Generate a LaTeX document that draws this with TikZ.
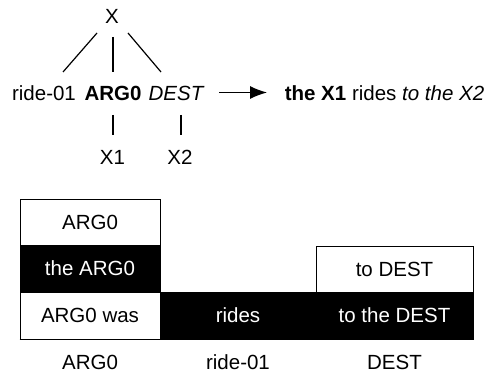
\documentclass[tikz,border=0pt]{standalone}
\usepackage{fontspec}
\setmainfont{Liberation Sans}
\usetikzlibrary{arrows.meta}
\begin{document}
\begin{tikzpicture}[x=1pt,y=-1pt,
  font=\fontsize{20.5}{24}\selectfont,
  lbl/.style={inner sep=0pt},
  cell/.style={draw=black, line width=0.9pt, inner sep=0pt, minimum height=47pt},
  wcell/.style={cell, fill=white, text=black},
  bcell/.style={cell, fill=black, text=white},
  treeline/.style={line width=1.2pt},
  bigarrow/.style={line width=1.2pt, -{Latex[length=17pt,width=13pt]}}]
\useasboundingbox (0,0) rectangle (490,377);
% tree
\node[lbl] (X) at (112,16) {X};
\node[lbl] (ride) at (44,93) {ride-01};
\node[lbl] (arg) at (113,93) {\bfseries ARG0};
\node[lbl] (dest) at (176,93) {\itshape DEST};
\node[lbl] (out) at (384.5,93) {\bfseries the X1 \mdseries rides \itshape to the X2};
\node[lbl] (x1) at (112.5,157) {X1};
\node[lbl] (x2) at (180,157) {X2};
\coordinate (t1a) at (97,33); \coordinate (t1b) at (63,72);
\coordinate (t2a) at (113,37); \coordinate (t2b) at (113,72);
\coordinate (t3a) at (128,33); \coordinate (t3b) at (161,72);
\coordinate (v1a) at (113,115); \coordinate (v1b) at (113,135);
\coordinate (v2a) at (181,115); \coordinate (v2b) at (181,135);
\draw[treeline] (t1a) -- (t1b);
\draw[treeline] (t2a) -- (t2b);
\draw[treeline] (t3a) -- (t3b);
\draw[treeline] (v1a) -- (v1b);
\draw[treeline] (v2a) -- (v2b);
\coordinate (ar1) at (219,92.5); \coordinate (ar2) at (267,92.5);
\draw[bigarrow] (ar1) -- (ar2);
% boxes
\node[wcell, minimum width=140pt, minimum height=46pt] (a1) at (90,222) {ARG0};
\node[bcell, minimum width=140pt] (a2) at (90,268.5) {the ARG0};
\node[wcell, minimum width=140pt] (a3) at (90,315.5) {ARG0 was};
\node[bcell, minimum width=156pt] (r1) at (238,315.5) {rides};
\node[wcell, minimum width=157pt, minimum height=46pt] (d1) at (394.5,269) {to DEST};
\node[bcell, minimum width=157pt] (d2) at (394.5,315.5) {to the DEST};
\draw[line width=0.9pt] (a3.south west) -- (d2.south east);
\node[lbl] (la) at (90,362) {ARG0};
\node[lbl] (lr) at (238,362) {ride-01};
\node[lbl] (ld) at (394.5,362) {DEST};
\end{tikzpicture}
\end{document}
